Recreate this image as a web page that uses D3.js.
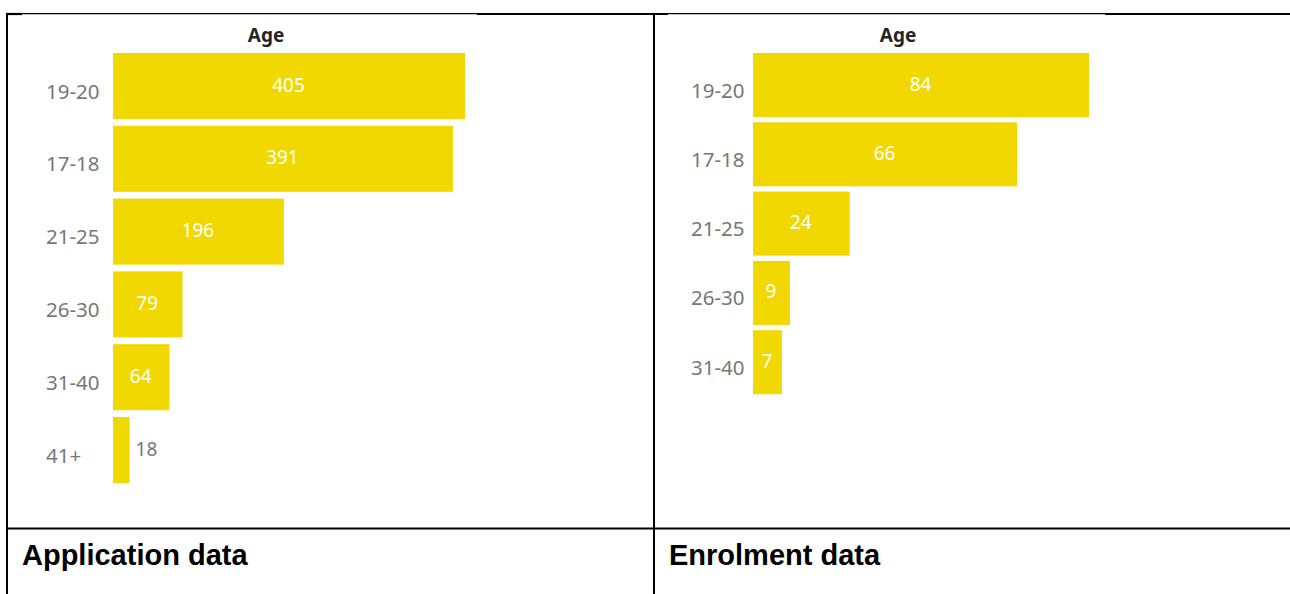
<!DOCTYPE html>
<html>
<head>
<meta charset="utf-8">
<script src="https://cdn.jsdelivr.net/npm/d3@7"></script>
<style>
  html, body { margin: 0; padding: 0; background: #fff; }
  svg { display: block; }
</style>
</head>
<body>
<svg id="chart" width="1290" height="594"></svg>
<script>
// Age bands and counts
const applicationAges = ["19-20", "17-18", "21-25", "26-30", "31-40", "41+"];
const applicationCounts = [405, 391, 196, 79, 64, 18];

const enrolmentAges = ["19-20", "17-18", "21-25", "26-30", "31-40"];
const enrolmentCounts = [84, 66, 24, 9, 7];

const panelTitles = ["Application data", "Enrolment data"];
const chartTitle = "Age";

const BAR = "#F0D800";
const LABEL_GREY = "#777777";
const FONT = "'Noto Sans', 'Open Sans', sans-serif";

const svg = d3.select("#chart");

// Table frame
const frame = svg.append("g").attr("stroke", "#000");
const topSegs = [[6, 22, 2.2, 14], [22, 477, 1.2, 13.6], [477, 668, 2.2, 14], [668, 1105, 1.2, 13.6], [1105, 1290, 2.2, 14]];
topSegs.forEach(([x1, x2, w, y]) => {
  frame.append("line").attr("x1", x1).attr("x2", x2).attr("y1", y).attr("y2", y).attr("stroke-width", w);
});
frame.append("line").attr("x1", 7).attr("x2", 7).attr("y1", 13).attr("y2", 594).attr("stroke-width", 2);
frame.append("line").attr("x1", 654).attr("x2", 654).attr("y1", 13).attr("y2", 594).attr("stroke-width", 2);
frame.append("line").attr("x1", 6).attr("x2", 1290).attr("y1", 528.5).attr("y2", 528.5).attr("stroke-width", 2.2);

function drawPanel(ages, counts, opt) {
  const g = svg.append("g");

  const y = d3.scaleBand()
    .domain(ages)
    .range([opt.top, opt.top + opt.step * (ages.length - 1) + opt.band])
    .paddingInner(1 - opt.band / opt.step)
    .paddingOuter(0);

  const x = d3.scaleLinear()
    .domain([0, d3.max(counts)])
    .range([opt.x0, opt.x1]);

  const rows = ages.map((a, i) => ({ age: a, n: counts[i] }));

  g.append("text")
    .attr("x", opt.titleX)
    .attr("y", 42)
    .attr("text-anchor", "middle")
    .attr("font-family", FONT)
    .attr("font-weight", 700)
    .attr("font-size", 19)
    .attr("fill", "#252423")
    .text(chartTitle);

  g.selectAll("rect.bar")
    .data(rows)
    .join("rect")
    .attr("class", "bar")
    .attr("x", x(0))
    .attr("y", d => y(d.age))
    .attr("width", d => x(d.n) - x(0) + 1)
    .attr("height", y.bandwidth())
    .attr("fill", BAR);

  g.selectAll("text.cat")
    .data(rows)
    .join("text")
    .attr("class", "cat")
    .attr("x", opt.labelX)
    .attr("y", d => y(d.age) + y.bandwidth() / 2 + 12.5)
    .attr("font-family", FONT)
    .attr("font-size", 20.5)
    .attr("fill", LABEL_GREY)
    .text(d => d.age);

  g.selectAll("text.val")
    .data(rows)
    .join("text")
    .attr("class", "val")
    .each(function (d) {
      const w = x(d.n) - x(0);
      const inside = w > 24;
      d3.select(this)
        .attr("x", inside ? x(0) + w / 2 : x(d.n) + 7)
        .attr("y", y(d.age) + y.bandwidth() / 2 + 5.5)
        .attr("text-anchor", inside ? "middle" : "start")
        .attr("fill", inside ? "#ffffff" : LABEL_GREY);
    })
    .attr("font-family", FONT)
    .attr("font-size", 19)
    .text(d => d.n);

  g.append("text")
    .attr("x", opt.panelX)
    .attr("y", 565)
    .attr("font-family", "'Liberation Sans', Arial, sans-serif")
    .attr("font-weight", 700)
    .attr("font-size", 29)
    .attr("fill", "#000")
    .text(opt.panelTitle);
}

drawPanel(applicationAges, applicationCounts, {
  top: 53, step: 72.8, band: 66,
  x0: 113, x1: 464,
  labelX: 46, titleX: 266,
  panelX: 22, panelTitle: panelTitles[0]
});

drawPanel(enrolmentAges, enrolmentCounts, {
  top: 53, step: 69.3, band: 64,
  x0: 753, x1: 1088,
  labelX: 691, titleX: 898,
  panelX: 669, panelTitle: panelTitles[1]
});
</script>
</body>
</html>
